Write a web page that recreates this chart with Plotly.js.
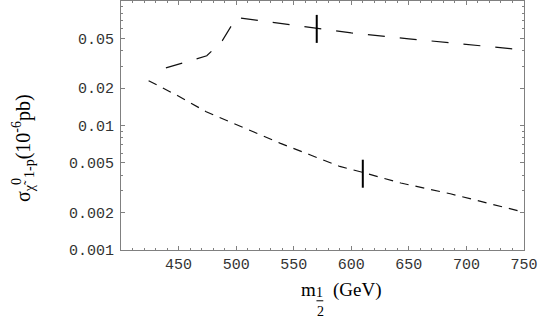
<!DOCTYPE html>
<html>
<head>
<meta charset="utf-8">
<script src="https://cdn.plot.ly/plotly-3.0.1.min.js"></script>
<style>
  html, body { margin: 0; padding: 0; background: #fff; }
  #chart { width: 545px; height: 323px; }
</style>
</head>
<body>
<div id="chart"></div>
<script>
// upper curve (long dashes)
var upperX = [439, 453, 474.5, 479, 488, 496, 500.3, 520, 545, 570, 600, 650, 700, 750];
var upperY = [0.0290, 0.0318, 0.0363, 0.0398, 0.0481, 0.0635, 0.0737, 0.0697, 0.0649, 0.0598, 0.0554, 0.0497, 0.0450, 0.0404];

// lower curve (short dashes)
var lowerX = [424, 449, 474, 512, 538, 564, 590, 610, 643, 686, 750];
var lowerY = [0.0229, 0.0174, 0.0129, 0.0092, 0.00722, 0.00582, 0.00469, 0.0042, 0.00345, 0.00283, 0.00201];

// vertical tick marks sitting on the curves
var markX = [570, 610];
var markY = [0.0597, 0.0041];

var xTicks = [450, 500, 550, 600, 650, 700, 750];
var yTicks = [0.001, 0.002, 0.005, 0.01, 0.02, 0.05];
var yTickText = ['0.001', '0.002', '0.005', '0.01', '0.02', '0.05'];

var yMinor = [];
[0.001, 0.01].forEach(function (d) {
    for (var k = 2; k <= 9; k++) yMinor.push(+(d * k).toPrecision(2));
});

var frameColor = '#808080';
var tickFont = { family: 'Liberation Mono, Courier New, monospace', size: 15, color: '#333' };
var serif = 'Liberation Serif, Times New Roman, serif';

var traces = [
    {
        x: upperX, y: upperY, type: 'scatter', mode: 'lines',
        line: { color: '#111', width: 1.2, dash: '17px,15px' },
        hoverinfo: 'skip'
    },
    {
        x: lowerX, y: lowerY, type: 'scatter', mode: 'lines',
        line: { color: '#111', width: 1.2, dash: '9px,7px' },
        hoverinfo: 'skip'
    },
    {
        x: markX, y: markY, type: 'scatter', mode: 'markers',
        marker: { symbol: 'line-ns', size: 20, line: { color: '#000', width: 2 } },
        hoverinfo: 'skip'
    }
];

// x title is put together by hand: m, stacked 1/2, (GeV)
function label(text, x, y, size, extra) {
    var a = {
        text: text, xref: 'paper', yref: 'paper', x: x, y: y,
        xanchor: 'center', yanchor: 'middle', showarrow: false,
        font: { family: serif, size: size, color: '#000' }
    };
    return Object.assign(a, extra || {});
}

var layout = {
    width: 545,
    height: 323,
    margin: { l: 121, r: 21, t: 1, b: 73 },
    paper_bgcolor: '#fff',
    plot_bgcolor: '#fff',
    showlegend: false,
    xaxis: {
        range: [400, 750],
        tickmode: 'array',
        tickvals: xTicks,
        ticktext: xTicks.map(String),
        ticks: 'inside', ticklen: 4, tickwidth: 1, tickcolor: frameColor,
        minor: { ticks: 'inside', ticklen: 2, dtick: 10, tickcolor: frameColor, showgrid: false },
        showline: true, linecolor: frameColor, linewidth: 1, mirror: 'ticks',
        showgrid: false, zeroline: false,
        tickfont: tickFont,
        ticklabelstandoff: 0
    },
    yaxis: {
        type: 'log',
        range: [-3, -1],
        tickmode: 'array',
        tickvals: yTicks,
        ticktext: yTickText,
        ticks: 'inside', ticklen: 4, tickwidth: 1, tickcolor: frameColor,
        minor: { ticks: 'inside', ticklen: 2, tickmode: 'array', tickvals: yMinor, tickcolor: frameColor, showgrid: false },
        showline: true, linecolor: frameColor, linewidth: 1, mirror: 'ticks',
        showgrid: false, zeroline: false,
        tickfont: tickFont,
        ticklabelstandoff: 3
    },
    annotations: [
        label('m', 0.465, -0.159, 19),
        label('1', 0.492, -0.170, 14),
        label('2', 0.494, -0.246, 14),
        label('(GeV)', 0.588, -0.159, 19),
        label('σ<sub>χ̃</sub><sup>0</sup><sub>1-p</sub>(10<sup>-6</sup>pb)', -0.243, 0.41, 20, { textangle: -90 })
    ],
    shapes: [
        { type: 'line', xref: 'paper', yref: 'paper', x0: 0.485, x1: 0.502, y0: -0.204, y1: -0.204,
          line: { color: '#000', width: 1 } }
    ]
};

Plotly.newPlot('chart', traces, layout, { staticPlot: true, displayModeBar: false });
</script>
</body>
</html>
